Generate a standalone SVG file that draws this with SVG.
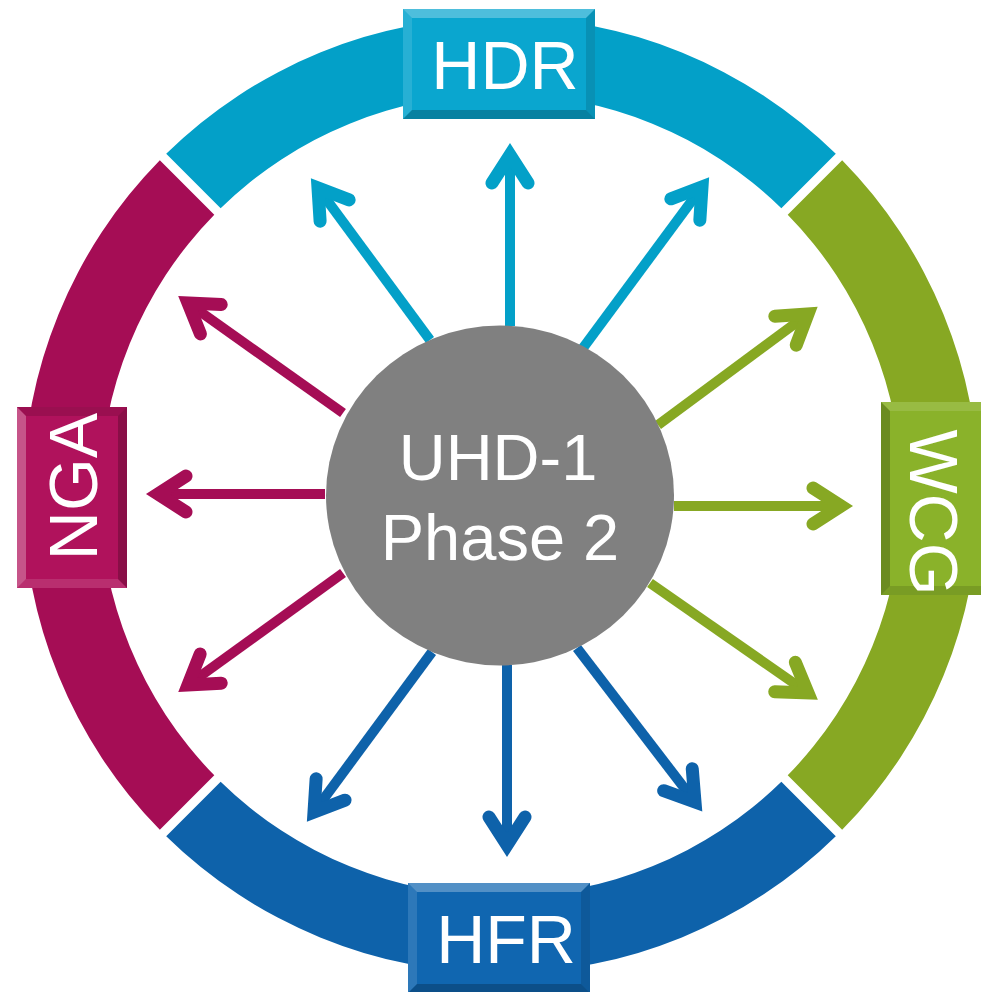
<svg xmlns="http://www.w3.org/2000/svg" width="981" height="992" viewBox="0 0 981 992">
<style>
.lbl{font-family:"Liberation Sans",Arial,sans-serif;font-size:68px;fill:#ffffff;text-anchor:middle}
.ctr{font-family:"Liberation Sans",Arial,sans-serif;font-size:65px;fill:#ffffff;text-anchor:middle}
.shaft{fill:none;stroke-width:10}
.c-hdr{stroke:#03a0c8}
.c-wcg{stroke:#87a823}
.c-hfr{stroke:#0e62aa}
.c-nga{stroke:#a50d55}
.head{fill:none;stroke-width:13;stroke-linecap:round;stroke-linejoin:miter}
.bt{fill:#ffffff;fill-opacity:0.28}
.bl{fill:#ffffff;fill-opacity:0.12}
.br{fill:#000000;fill-opacity:0.12}
.bb{fill:#000000;fill-opacity:0.22}
</style>
<defs>
<marker id="m-hdr" markerUnits="userSpaceOnUse" orient="auto" refX="0" refY="0" markerWidth="60" markerHeight="60" overflow="visible"><path class="head" d="M -28 -18 L 0 0 L -28 18" stroke="#03a0c8"/></marker>
<marker id="m-wcg" markerUnits="userSpaceOnUse" orient="auto" refX="0" refY="0" markerWidth="60" markerHeight="60" overflow="visible"><path class="head" d="M -28 -18 L 0 0 L -28 18" stroke="#87a823"/></marker>
<marker id="m-hfr" markerUnits="userSpaceOnUse" orient="auto" refX="0" refY="0" markerWidth="60" markerHeight="60" overflow="visible"><path class="head" d="M -28 -18 L 0 0 L -28 18" stroke="#0e62aa"/></marker>
<marker id="m-nga" markerUnits="userSpaceOnUse" orient="auto" refX="0" refY="0" markerWidth="60" markerHeight="60" overflow="visible"><path class="head" d="M -28 -18 L 0 0 L -28 18" stroke="#a50d55"/></marker>
<clipPath id="clip-wcg"><rect x="-96.5" y="-55" width="193" height="110"/></clipPath>
</defs>

<g id="ring">
<path id="seg-hdr" fill="#03a0c8" d="M 166.20 153.84 A 478 478 0 0 1 835.80 153.84 L 781.35 208.29 A 401 401 0 0 0 220.65 208.29 Z"/>
<path id="seg-wcg" fill="#87a823" d="M 842.16 160.20 A 478 478 0 0 1 842.16 829.80 L 787.71 775.35 A 401 401 0 0 0 787.71 214.65 Z"/>
<path id="seg-hfr" fill="#0e62aa" d="M 835.80 836.16 A 478 478 0 0 1 166.20 836.16 L 220.65 781.71 A 401 401 0 0 0 781.35 781.71 Z"/>
<path id="seg-nga" fill="#a50d55" d="M 159.84 829.80 A 478 478 0 0 1 159.84 160.20 L 214.29 214.65 A 401 401 0 0 0 214.29 775.35 Z"/>
</g>

<g id="connectors">
<line class="shaft c-hdr" x1="510" y1="326" x2="510" y2="155" marker-end="url(#m-hdr)"/>
<line class="shaft c-hdr" x1="430" y1="340" x2="318" y2="188" marker-end="url(#m-hdr)"/>
<line class="shaft c-hdr" x1="583" y1="348" x2="702" y2="187" marker-end="url(#m-hdr)"/>
<line class="shaft c-wcg" x1="658" y1="425" x2="808" y2="314" marker-end="url(#m-wcg)"/>
<line class="shaft c-wcg" x1="674" y1="506" x2="841" y2="506" marker-end="url(#m-wcg)"/>
<line class="shaft c-wcg" x1="650" y1="583" x2="808" y2="693" marker-end="url(#m-wcg)"/>
<line class="shaft c-hfr" x1="577" y1="648" x2="695" y2="802" marker-end="url(#m-hfr)"/>
<line class="shaft c-hfr" x1="507" y1="665" x2="507" y2="845" marker-end="url(#m-hfr)"/>
<line class="shaft c-hfr" x1="432" y1="652" x2="314" y2="812" marker-end="url(#m-hfr)"/>
<line class="shaft c-nga" x1="343" y1="573" x2="188" y2="685" marker-end="url(#m-nga)"/>
<line class="shaft c-nga" x1="325" y1="494" x2="158" y2="494" marker-end="url(#m-nga)"/>
<line class="shaft c-nga" x1="343" y1="413" x2="188" y2="303" marker-end="url(#m-nga)"/>
</g>

<g id="center">
<ellipse cx="500" cy="495.5" rx="174" ry="170" fill="#808080"/>
<text class="ctr" x="498" y="480">UHD-1</text>
<text class="ctr" x="500" y="560">Phase 2</text>
</g>

<g id="hdr" transform="translate(499,64)">
<rect x="-96" y="-55" width="192" height="110" fill="#0aa6cf"/>
<polygon class="bt" points="-96,-55 96,-55 87,-46 -87,-46"/>
<polygon class="bl" points="-96,-55 -87,-46 -87,46 -96,55"/>
<polygon class="br" points="96,-55 96,55 87,46 87,-46"/>
<polygon class="bb" points="-96,55 96,55 87,46 -87,46"/>
<text class="lbl" x="6" y="25">HDR</text>
</g>

<g id="wcg" transform="translate(936,498.5) rotate(90)">
<rect x="-96.5" y="-55" width="193" height="110" fill="#8ab22a"/>
<polygon class="bt" points="-96.5,-55 96.5,-55 87.5,-46 -87.5,-46"/>
<polygon class="bl" points="-96.5,-55 -87.5,-46 -87.5,46 -96.5,55"/>
<polygon class="br" points="96.5,-55 96.5,55 87.5,46 87.5,-46"/>
<polygon class="bb" points="-96.5,55 96.5,55 87.5,46 -87.5,46"/>
<text class="lbl" x="14" y="26" clip-path="url(#clip-wcg)">WCG</text>
</g>

<g id="hfr" transform="translate(499,938)">
<rect x="-91" y="-55" width="182" height="110" fill="#1066b0"/>
<polygon class="bt" points="-91,-55 91,-55 82,-46 -82,-46"/>
<polygon class="bl" points="-91,-55 -82,-46 -82,46 -91,55"/>
<polygon class="br" points="91,-55 91,55 82,46 82,-46"/>
<polygon class="bb" points="-91,55 91,55 82,46 -82,46"/>
<text class="lbl" x="7" y="25">HFR</text>
</g>

<g id="nga" transform="translate(72,497.5) rotate(-90)">
<rect x="-90.5" y="-55" width="181" height="110" fill="#b0125c"/>
<polygon class="bt" points="-90.5,-55 90.5,-55 81.5,-46 -81.5,-46"/>
<polygon class="bl" points="-90.5,-55 -81.5,-46 -81.5,46 -90.5,55"/>
<polygon class="br" points="90.5,-55 90.5,55 81.5,46 81.5,-46"/>
<polygon class="bb" points="-90.5,55 90.5,55 81.5,46 -81.5,46"/>
<text class="lbl" x="11" y="25">NGA</text>
</g>
</svg>
